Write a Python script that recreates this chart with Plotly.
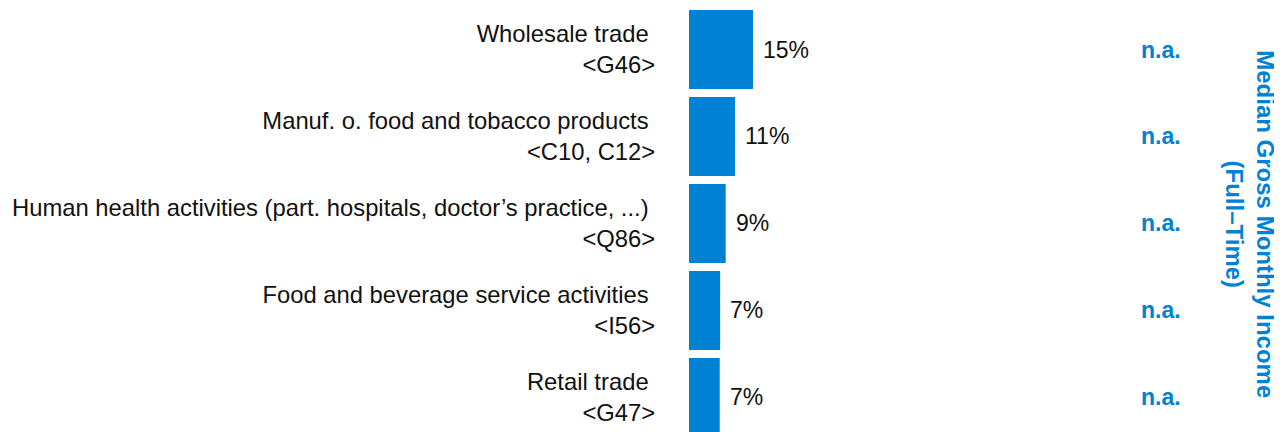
import plotly.graph_objects as go

categories = [
    "Wholesale trade\u00a0<br><G46>",
    "Manuf. o. food and tobacco products\u00a0<br><C10, C12>",
    "Human health activities (part. hospitals, doctor’s practice, ...)\u00a0<br><Q86>",
    "Food and beverage service activities\u00a0<br><I56>",
    "Retail trade\u00a0<br><G47>",
]
shares = [15.0, 10.8, 8.6, 7.3, 7.2]
share_labels = ["15%", "11%", "9%", "7%", "7%"]
income_labels = ["n.a.", "n.a.", "n.a.", "n.a.", "n.a."]
right_title = "Median Gross Monthly Income<br>(Full–Time)"

BLUE = "#0082D4"
FONT = "Arial, Liberation Sans, sans-serif"

fig = go.Figure()
fig.add_trace(go.Bar(
    x=shares, y=categories, orientation="h",
    marker=dict(color=BLUE, line=dict(width=0)),
    hoverinfo="skip",
))

for cat, v, lab in zip(categories, shares, share_labels):
    fig.add_annotation(x=v, y=cat, text=lab, showarrow=False, xanchor="left",
                       xshift=8, font=dict(family=FONT, size=23, color="#111111"))

for cat, lab in zip(categories, income_labels):
    fig.add_annotation(x=0.796, xref="paper", y=cat, text="<b>%s</b>" % lab,
                       showarrow=False, xanchor="center",
                       font=dict(family=FONT, size=23, color=BLUE))

fig.add_annotation(x=0.946, xref="paper", y=0.49, yref="paper", text="<b>%s</b>" % right_title,
                   showarrow=False, textangle=90, xanchor="center", yanchor="middle",
                   font=dict(family=FONT, size=24, color=BLUE))

fig.update_layout(
    width=1274, height=424,
    margin=dict(l=681, r=0, t=0, b=0),
    paper_bgcolor="white", plot_bgcolor="white",
    bargap=0.092, showlegend=False,
    font=dict(family=FONT, size=24, color="#111111"),
)
fig.update_xaxes(visible=False, range=[0, 139])
fig.update_yaxes(range=[4.397, -0.477], showgrid=False, zeroline=False, showline=False,
                 ticks="outside", ticklen=28, tickcolor="rgba(0,0,0,0)",
                 tickfont=dict(family=FONT, size=23.8, color="#111111"), automargin=False)

fig.write_html("out.html")
